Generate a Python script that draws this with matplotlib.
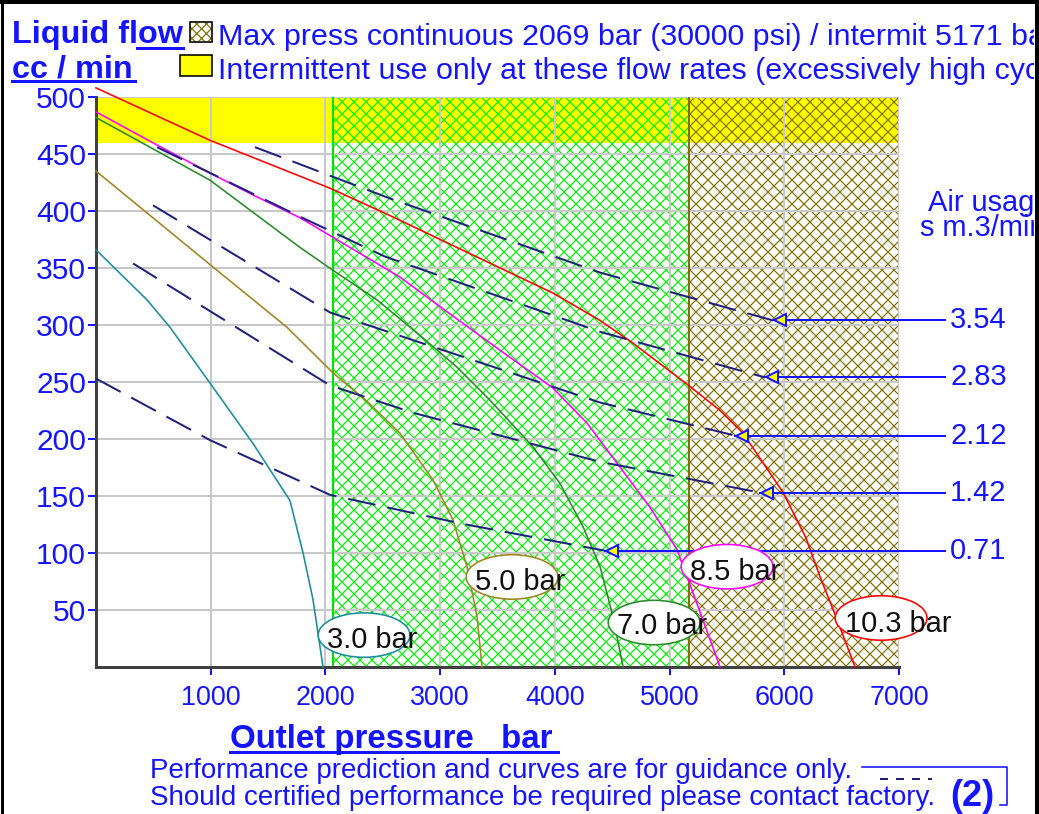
import matplotlib
matplotlib.use("Agg")
import matplotlib.pyplot as plt
from matplotlib.patches import Rectangle, Ellipse
from matplotlib.lines import Line2D

# --- data --------------------------------------------------------------
# liquid flow (cc/min) vs outlet pressure (bar), one curve per air pressure
teal_x = [0, 445, 645, 994, 1369, 1691, 1805, 1892, 1979]
teal_y = [366, 322, 298, 249, 196, 146, 100, 59, 0]
olive_x = [0, 994, 1665, 2066, 2363, 2650, 2938, 3112, 3234, 3322, 3365]
olive_y = [435, 353, 298, 258, 233, 205, 164, 129, 88, 44, 0]
green_x = [0, 994, 1779, 2066, 2450, 2799, 3147, 3435, 3810, 4045, 4246, 4394, 4507, 4595]
green_y = [482, 427, 368, 348, 322, 293, 263, 234, 193, 161, 123, 88, 44, 0]
magenta_x = [0, 530, 1000, 1370, 1780, 2650, 3000, 3520, 3980, 4280, 4570, 4830, 5065, 5270, 5440]
magenta_y = [487, 458, 433, 414, 394, 342, 316, 278, 245, 214, 175, 140, 103, 47, 0]
red_x = [0, 994, 2040, 2563, 3000, 3984, 4394, 4682, 5179, 5440, 5641, 5990, 6190, 6312, 6443, 6617]
red_y = [508, 462, 420, 396, 375, 328, 304, 284, 246, 225, 205, 153, 113, 79, 46, 0]
curve_labels = ["3.0 bar", "5.0 bar", "7.0 bar", "8.5 bar", "10.3 bar"]

# air usage lines (m3/min)
air_labels = ["3.54", "2.83", "2.12", "1.42", "0.71"]
air354_x = [1386, 2563, 4394, 5902]
air354_y = [456, 411, 346, 304]
air283_x = [532, 1779, 2520, 4394, 5833]
air283_y = [456, 395, 360, 294, 254]
air212_x = [497, 2040, 4394, 5571]
air212_y = [405, 311, 232, 203]
air142_x = [323, 2040, 2764, 4394, 5789]
air142_y = [354, 247, 223, 180, 153]
air071_x = [0, 994, 2040, 3173, 4438]
air071_y = [253, 199, 151, 126, 102]

x_ticks = [1000, 2000, 3000, 4000, 5000, 6000, 7000]
y_ticks = [50, 100, 150, 200, 250, 300, 350, 400, 450, 500]
cont_limit = 2069      # bar, continuous
inter_limit = 5171     # bar, intermittent
high_flow = 460        # cc/min, intermittent only above

# --- figure ---------------------------------------------------------------
W, H, DPI = 1039, 814, 144
plt.rcParams["font.family"] = ["Liberation Sans", "DejaVu Sans"]
plt.rcParams["hatch.linewidth"] = 0.6

BLUE = "#1414ff"
NAVY = "#20207c"


def fx(px):
    return px / W


def fy(py):
    return 1 - py / H


fig = plt.figure(figsize=(W / DPI, H / DPI), dpi=DPI)
ax = fig.add_axes([fx(96), fy(667), fx(899) - fx(96), fy(97) - fy(667)])
ax.set_xlim(0, 7000)
ax.set_ylim(0, 500)

# zones
ax.add_patch(Rectangle((0, high_flow), 7000, 500 - high_flow,
                       facecolor="#ffff00", edgecolor="none", zorder=0.5))
ax.add_patch(Rectangle((cont_limit, 0), inter_limit - cont_limit, 500,
                       facecolor="none", edgecolor="#00f000", hatch="xxxx",
                       linewidth=0, zorder=0.8))
ax.add_patch(Rectangle((inter_limit, 0), 7000 - inter_limit, 500,
                       facecolor="none", edgecolor="#807000", hatch="xxxx",
                       linewidth=0, zorder=0.8))
ax.axvline(cont_limit, color="#00e000", lw=1, zorder=1.6)
ax.axvline(inter_limit, color="#807000", lw=1, zorder=1.6)

ax.set_xticks(x_ticks)
ax.set_yticks(y_ticks)
ax.grid(True, color="#c8c8c8", lw=1)
for s in ["top", "right"]:
    ax.spines[s].set_visible(False)
for s in ["left", "bottom"]:
    ax.spines[s].set_color("#404040")
    ax.spines[s].set_linewidth(1.5)
ax.tick_params(direction="out", length=4, width=1, color=BLUE, labelcolor=BLUE)
ax.tick_params(axis="x", labelsize=13.5, pad=5)
ax.tick_params(axis="y", labelsize=15, pad=1)

# pressure curves
curves = [
    (teal_x, teal_y, "#1a8c9c"),
    (olive_x, olive_y, "#a08424"),
    (green_x, green_y, "#2a8a2a"),
    (magenta_x, magenta_y, "#ff00ff"),
    (red_x, red_y, "#ff0000"),
]
for xs, ys, c in curves:
    ax.plot(xs, ys, color=c, lw=0.8, clip_on=False, zorder=3)

# air usage lines with arrows to the right-hand labels
air = [(air354_x, air354_y), (air283_x, air283_y), (air212_x, air212_y),
       (air142_x, air142_y), (air071_x, air071_y)]
for (xs, ys), lab in zip(air, air_labels):
    ax.plot(xs, ys, color=NAVY, lw=1, dashes=(14, 6), zorder=4)
    ax.plot([xs[-1], 7400], [ys[-1], ys[-1]], color=BLUE, lw=1,
            clip_on=False, zorder=4)
    ax.plot(xs[-1] + 60, ys[-1], marker="<", ms=6, mfc="#ffff00", mec=BLUE,
            mew=1, clip_on=False, zorder=5)
    ax.text(7446, ys[-1], lab, color=BLUE, fontsize=14.5, va="center",
            ha="left", clip_on=False)

# curve labels in ellipses
ell = [(2337, 28, 2014, 24), (3627, 79, 3304, 75), (4865, 39, 4542, 36),
       (5501, 88, 5179, 83), (6844, 43, 6530, 38)]
for (cx, cy, tx, ty), lab, (_, _, c) in zip(ell, curve_labels, curves):
    ax.add_patch(Ellipse((cx, cy), 800, 39, facecolor="white", edgecolor=c,
                         lw=0.8, zorder=6, clip_on=False))
    ax.text(tx, ty, lab, fontsize=14.5, color="#101010", va="center",
            ha="left", zorder=7)

# --- header ----------------------------------------------------------------
fig.text(fx(12), fy(43), "Liquid flow", fontsize=16.2, fontweight="bold",
         color=BLUE, va="baseline")
fig.text(fx(12), fy(77), "cc / min", fontsize=16.2, fontweight="bold",
         color=BLUE, va="baseline")
fig.add_artist(Line2D([fx(12), fx(135)], [fy(81), fy(81)], color=BLUE, lw=1.5))
fig.add_artist(Line2D([fx(137), fx(183)], [fy(48), fy(48)], color=BLUE, lw=1.5))

fig.add_artist(Rectangle((fx(190), fy(42)), fx(212) - fx(190), fy(22) - fy(42),
                         facecolor="white", edgecolor="#807000", hatch="xxxxx",
                         linewidth=0))
fig.add_artist(Rectangle((fx(190), fy(42)), fx(212) - fx(190), fy(22) - fy(42),
                         facecolor="none", edgecolor="black", linewidth=0.8))
fig.add_artist(Rectangle((fx(180), fy(76)), fx(212) - fx(180), fy(55) - fy(76),
                         facecolor="#ffff00", edgecolor="black", linewidth=0.8))
fig.text(fx(218), fy(45),
         "Max press continuous 2069 bar (30000 psi) / intermit 5171 bar",
         fontsize=15.2, color=BLUE, va="baseline")
fig.text(fx(218), fy(79),
         "Intermittent use only at these flow rates (excessively high cycle rates)",
         fontsize=15.2, color=BLUE, va="baseline")

fig.text(fx(928), fy(203), "Air usage", fontsize=14.5, color=BLUE, va="center")
fig.text(fx(920), fy(228), "s m.3/min", fontsize=14.5, color=BLUE, va="center")

# --- footer ----------------------------------------------------------------
fig.text(fx(230), fy(748), "Outlet pressure   bar", fontsize=16.5,
         fontweight="bold", color=BLUE, va="baseline")
fig.add_artist(Line2D([fx(230), fx(558)], [fy(752), fy(752)], color=BLUE, lw=1.5))
fig.text(fx(150), fy(778), "Performance prediction and curves are for guidance only.",
         fontsize=13.9, color=BLUE, va="baseline")
fig.text(fx(150), fy(805), "Should certified performance be required please contact factory.",
         fontsize=13.9, color=BLUE, va="baseline")
fig.text(fx(950), fy(806), "(2)", fontsize=18, fontweight="bold", color=BLUE,
         va="baseline")
fig.add_artist(Line2D([fx(862), fx(1007), fx(1007), fx(1000)],
                      [fy(767), fy(767), fy(805), fy(805)], color=BLUE, lw=0.8))
fig.add_artist(Line2D([fx(880), fx(932)], [fy(779), fy(779)], color=NAVY,
                      lw=1, dashes=(4, 4)))

# clip strip and frame
fig.add_artist(Rectangle((fx(1034), 0), 1 - fx(1034), 1, facecolor="white",
                         edgecolor="none", zorder=20))
fig.add_artist(Line2D([fx(1.5), fx(1.5)], [0, 1], color="black", lw=1.5, zorder=21))
fig.add_artist(Line2D([0, 1], [fy(2), fy(2)], color="black", lw=2, zorder=21))
fig.add_artist(Line2D([fx(1037), fx(1037)], [0, 1], color="black", lw=2, zorder=21))

fig.savefig("out.png", dpi=DPI)
plt.close(fig)
